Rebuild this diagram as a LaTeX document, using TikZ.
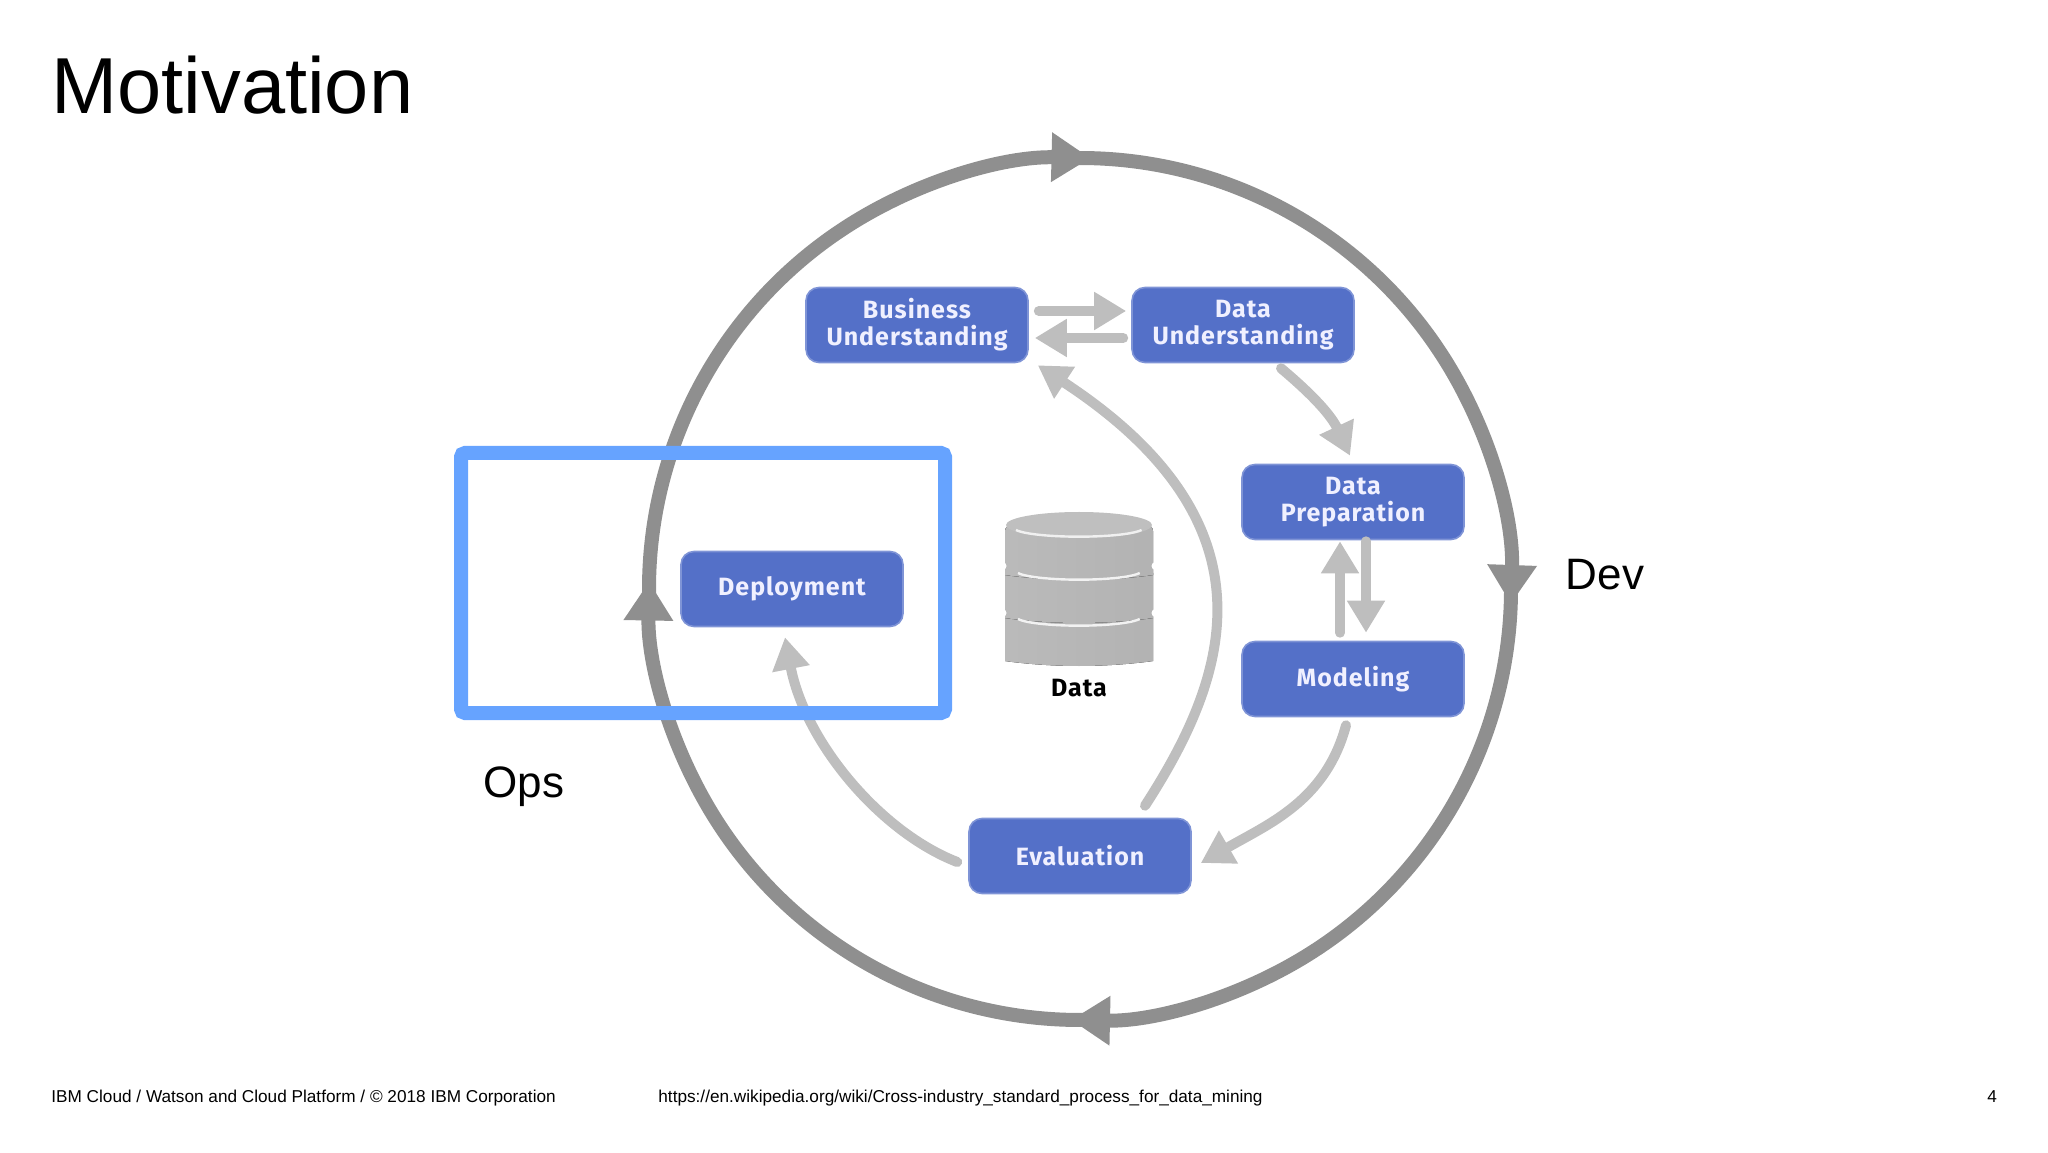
\documentclass[tikz,border=0pt]{standalone}
\usepackage{fontspec}
\setmainfont{Liberation Sans}
\newfontfamily\stagefont[LetterSpace=4]{Fira Sans}
\usetikzlibrary{arrows.meta}
\definecolor{stageblue}{HTML}{5470C8}
\definecolor{opsblue}{HTML}{66A3FF}
\definecolor{ringgray}{HTML}{8F8F8F}
\definecolor{flowgray}{HTML}{BEBEBE}
\tikzset{
  stagebox/.style={draw=stageblue!75!white,line width=0.8pt,fill=stageblue,rounded corners=6.5pt,
    minimum width=111pt,minimum height=37.5pt,inner sep=0pt,align=center,text=blue!6!white,
    font=\stagefont\fontsize{12.5}{13.5}\selectfont\bfseries},
  opsbox/.style={draw=opsblue,line width=7pt,rounded corners=2pt,minimum width=242pt,minimum height=130pt,inner sep=0pt},
  ringline/.style={draw=ringgray,line width=7pt,-{Triangle[length=19.5pt,width=23.5pt]}},
  flow/.style={draw=flowgray,line width=5pt,line cap=round,-{Triangle[length=16pt,width=18pt]}},
  slidetext/.style={anchor=base,font=\fontsize{22}{26}\selectfont},
  foottext/.style={anchor=base west,inner sep=0pt,font=\fontsize{8.6}{10}\selectfont}
}
\begin{document}
\begin{tikzpicture}[x=0.5pt,y=0.5pt]
  \useasboundingbox (0,0) rectangle (2048,1152);
  \coordinate (hub) at (1080,563);
  \foreach \from/\upto in {179/88.6,88.6/-2,-2/-91.2,-91.2/-181}
    \draw[ringline] ([shift={(\from+3:431)}]hub) arc[start angle=\from+3,end angle=\upto,radius=431];
  \draw
    (917,827) node[stagebox] (business){Business\\Understanding}
    (1243,827) node[stagebox] (understanding){Data\\Understanding}
    (1353,650) node[stagebox] (preparation){Data\\Preparation}
    (1353,473) node[stagebox] (modeling){Modeling}
    (1080,296) node[stagebox] (evaluation){Evaluation}
    (792,563) node[stagebox] (deployment){Deployment};
  \begin{scope}[flow]
    \draw ([shift={(5pt,7pt)}]business.east) to ([shift={(-2.5pt,7pt)}]understanding.west);
    \draw ([shift={(-4pt,-6.5pt)}]understanding.west) to ([shift={(3pt,-6.5pt)}]business.east);
    \draw ([shift={(19pt,-2.5pt)}]understanding.south) to[out=-40,in=115] ([shift={(-1.5pt,4pt)}]preparation.north);
    \draw ([shift={(-6.5pt,4pt)}]preparation.south |- modeling.north) to ([shift={(-6.5pt,-0.5pt)}]preparation.south);
    \draw ([shift={(6.5pt,-0.5pt)}]preparation.south) to ([shift={(6.5pt,4pt)}]preparation.south |- modeling.north);
    \draw ([shift={(-3.5pt,-4pt)}]modeling.south) to[out=-105,in=30] ([shift={(4.5pt,-3.5pt)}]evaluation.east);
    \draw ([shift={(32.5pt,6pt)}]evaluation.north) .. controls (1225,470) and (1285,625) .. ([shift={(4.5pt,-1pt)}]business.south east);
    \draw ([shift={(-5.5pt,-3pt)}]evaluation.west) .. controls (880,320) and (805,410) .. ([shift={(-3.5pt,-5pt)}]deployment.south);
  \end{scope}
  \draw (703,569) node[opsbox] (ops){};
  \foreach \top/\low in {540/497,585/540,627/583}
    \fill[rounded corners=3pt,left color=black!27,middle color=black!12,right color=black!30]
      (1005,\top) -- (1005,\low) arc[start angle=180,end angle=360,x radius=74,y radius=11] -- (1153,\top) -- cycle;
  \foreach \rimy in {579,533}
    \draw[black!5,line width=1.2pt] (1018,\rimy) arc[start angle=195,end angle=345,x radius=63,y radius=9];
  \foreach \rimy in {586,539} {
    \fill[white] (1002.5,\rimy) circle[radius=4];
    \fill[white] (1155.5,\rimy) circle[radius=4];
  }
  \fill[black!25] (1079,627) ellipse[x radius=73,y radius=13];
  \draw[black!6,line width=1.2pt] (1016,622) arc[start angle=195,end angle=345,x radius=65,y radius=9];
  \draw
    (1079,456) node[anchor=base,font=\stagefont\fontsize{12.5}{14}\selectfont\bfseries,text=black] (datalabel){Data}
    (51,1038) node[anchor=base west,inner sep=0pt,font=\fontsize{39.7}{46}\selectfont] (title){Motivation}
    (524,355) node[slidetext] (opslabel){Ops}
    (1605,562) node[slidetext] (devlabel){Dev}
    (51,49.5) node[foottext] (footer){IBM Cloud / Watson and Cloud Platform / © 2018 IBM Corporation}
    (658,49.5) node[foottext] (source){https://en.wikipedia.org/wiki/Cross-industry\_standard\_process\_for\_data\_mining}
    (1987,49.5) node[foottext] (pagenumber){4};
\end{tikzpicture}
\end{document}
